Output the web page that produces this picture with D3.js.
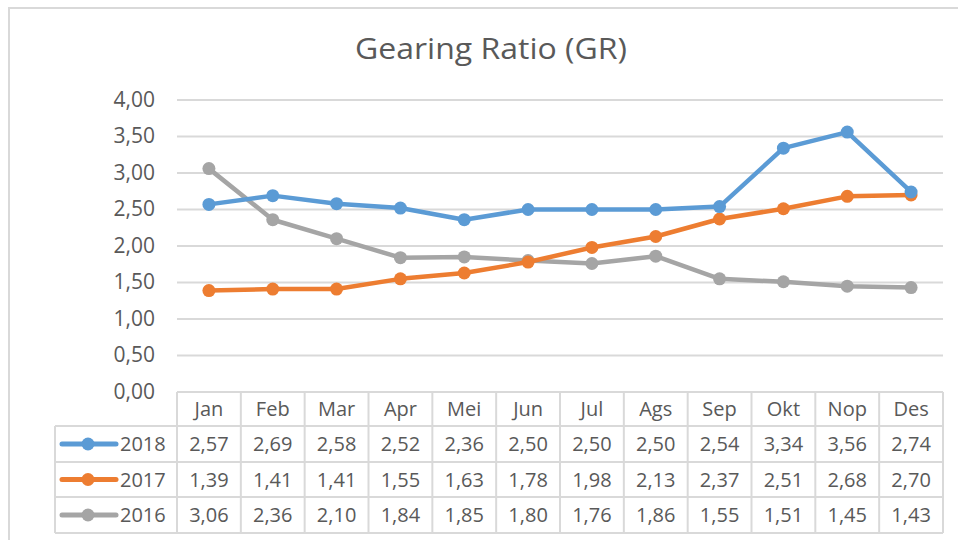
<!DOCTYPE html>
<html><head><meta charset="utf-8">
<script src="https://cdn.jsdelivr.net/npm/d3@7"></script>
<style>body{margin:0;background:#fff}svg{display:block}</style>
</head><body>
<script>
const months = ["Jan","Feb","Mar","Apr","Mei","Jun","Jul","Ags","Sep","Okt","Nop","Des"];
const seriesNames = ["2018","2017","2016"];
const v2018 = [2.57,2.69,2.58,2.52,2.36,2.50,2.50,2.50,2.54,3.34,3.56,2.74];
const v2017 = [1.39,1.41,1.41,1.55,1.63,1.78,1.98,2.13,2.37,2.51,2.68,2.70];
const v2016 = [3.06,2.36,2.10,1.84,1.85,1.80,1.76,1.86,1.55,1.51,1.45,1.43];
const colors = ["#5B9BD5","#ED7D31","#A5A5A5"];
const yTicks = [0,0.5,1,1.5,2,2.5,3,3.5,4];
const title = "Gearing Ratio (GR)";

const series = [v2018, v2017, v2016].map((v,i)=>({name:seriesNames[i], values:v, color:colors[i]}));
const W=958,H=540;
const font = "'Open Sans', 'Liberation Sans', sans-serif";
const txt = "#595959", grid="#d9d9d9";
const svg = d3.select("body").append("svg").attr("width",W).attr("height",H);

// outer frame
svg.append("path").attr("d","M9,540 V8 H958").attr("fill","none").attr("stroke",grid).attr("stroke-width",2);

svg.append("text").attr("x",491).attr("y",59).attr("text-anchor","middle")
  .attr("font-family",font).attr("font-size",29).attr("fill",txt)
  .attr("textLength",272).attr("lengthAdjust","spacingAndGlyphs").text(title);

const x = d3.scaleBand().domain(months).range([177,943]);
const y = d3.scaleLinear().domain([0,4]).range([392,100]);

// gridlines
svg.append("g").selectAll("line").data(yTicks).join("line")
  .attr("x1",177).attr("x2",943).attr("y1",d=>y(d)).attr("y2",d=>y(d))
  .attr("stroke",grid).attr("stroke-width",2);

// y axis labels
const fmt = d=>d3.format(".2f")(d).replace(".",",");
const yAxis = d3.axisLeft(y).tickValues(yTicks).tickFormat(fmt).tickSize(0).tickPadding(22);
const ga = svg.append("g").attr("transform","translate(177,0)").call(yAxis);
ga.select(".domain").remove();
ga.selectAll("text").attr("font-family",font).attr("font-size",21).attr("fill",txt).attr("dy","0.3em");

// data table
const rowTop = [392,426,462,497,533];
const tbl = svg.append("g").attr("stroke",grid).attr("stroke-width",2);
tbl.append("line").attr("x1",177).attr("x2",943).attr("y1",392).attr("y2",392);
rowTop.slice(1).forEach(r=>tbl.append("line").attr("x1",55).attr("x2",943).attr("y1",r).attr("y2",r));
months.forEach(m=>tbl.append("line").attr("x1",x(m)).attr("x2",x(m)).attr("y1",392).attr("y2",533));
tbl.append("line").attr("x1",943).attr("x2",943).attr("y1",392).attr("y2",533);
tbl.append("line").attr("x1",55).attr("x2",55).attr("y1",426).attr("y2",533);

svg.append("g").selectAll("text").data(months).join("text")
  .attr("x",d=>x(d)+x.bandwidth()/2).attr("y",(rowTop[0]+rowTop[1])/2+7)
  .attr("text-anchor","middle").attr("font-family",font).attr("font-size",20).attr("fill",txt).text(d=>d);

series.forEach((s,i)=>{
  const cy = (rowTop[i+1]+rowTop[i+2])/2;
  const g = svg.append("g");
  g.append("line").attr("x1",62).attr("x2",116).attr("y1",cy).attr("y2",cy).attr("stroke",s.color).attr("stroke-width",5).attr("stroke-linecap","round");
  g.append("circle").attr("cx",88).attr("cy",cy).attr("r",6.5).attr("fill",s.color);
  g.append("text").attr("x",120).attr("y",cy+7).attr("font-family",font).attr("font-size",20).attr("fill",txt).text(s.name);
  g.selectAll("text.v").data(s.values).join("text").attr("class","v")
    .attr("x",(d,j)=>x(months[j])+x.bandwidth()/2).attr("y",cy+7)
    .attr("text-anchor","middle").attr("font-family",font).attr("font-size",20).attr("fill",txt).text(fmt);
});

// lines
const line = d3.line().x((d,j)=>x(months[j])+x.bandwidth()/2).y(d=>y(d));
series.slice().reverse().forEach(s=>{
  svg.append("path").attr("d",line(s.values)).attr("fill","none").attr("stroke",s.color).attr("stroke-width",4.5).attr("stroke-linejoin","round").attr("stroke-linecap","round");
  svg.append("g").selectAll("circle").data(s.values).join("circle")
    .attr("cx",(d,j)=>x(months[j])+x.bandwidth()/2).attr("cy",d=>y(d)).attr("r",6.5).attr("fill",s.color);
});
</script>
</body></html>
